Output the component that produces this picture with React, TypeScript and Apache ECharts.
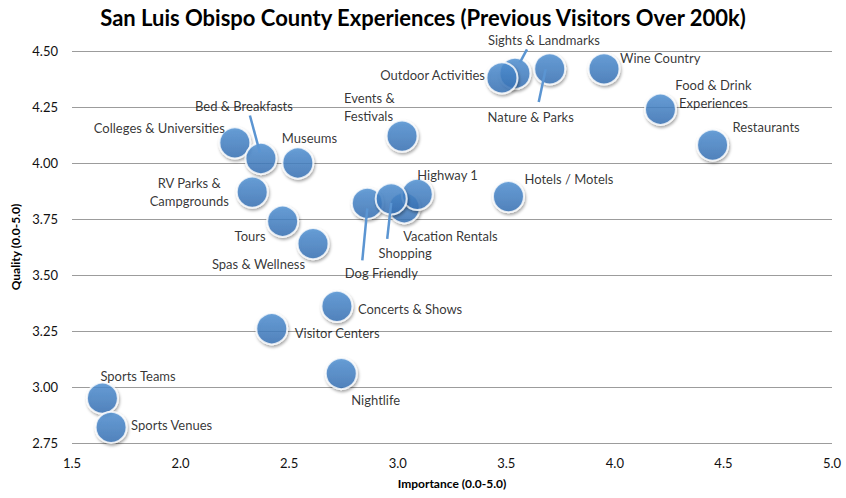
import React, { useEffect, useRef } from "react";
import * as echarts from "echarts";

const titleText = "San Luis Obispo County Experiences (Previous Visitors Over 200k)";
const xAxisName = "Importance (0.0-5.0)";
const yAxisName = "Quality (0.0-5.0)";

const names = [
  "Sports Teams",
  "Sports Venues",
  "Visitor Centers",
  "Nightlife",
  "Concerts & Shows",
  "Spas & Wellness",
  "Tours",
  "RV Parks &\nCampgrounds",
  "Colleges & Universities",
  "Bed & Breakfasts",
  "Museums",
  "Events &\nFestivals",
  "Vacation Rentals",
  "Highway 1",
  "Dog Friendly",
  "Shopping",
  "Hotels / Motels",
  "Sights & Landmarks",
  "Outdoor Activities",
  "Nature & Parks",
  "Wine Country",
  "Food & Drink\nExperiences",
  "Restaurants",
];
const importance = [1.64, 1.68, 2.42, 2.74, 2.72, 2.61, 2.47, 2.33, 2.25, 2.37, 2.54, 3.02, 3.03, 3.09, 2.86, 2.97, 3.51, 3.54, 3.48, 3.70, 3.95, 4.21, 4.45];
const quality = [2.95, 2.82, 3.26, 3.06, 3.36, 3.64, 3.74, 3.87, 4.09, 4.02, 4.00, 4.12, 3.80, 3.86, 3.82, 3.84, 3.85, 4.40, 4.38, 4.42, 4.42, 4.24, 4.08];

const xMin = 1.5, xMax = 5.0, xStep = 0.5;
const yMin = 2.75, yMax = 4.5, yStep = 0.25;

// label placement (pixels relative to the marker centre) — style only
const labelPlacement: Record<string, [number, number, string]> = {
  "Sports Teams": [-2, -22, "left"],
  "Sports Venues": [20, -2, "left"],
  "Visitor Centers": [23, 4, "left"],
  "Nightlife": [10, 26, "left"],
  "Concerts & Shows": [21, 3, "left"],
  "Spas & Wellness": [-8, 20, "right"],
  "Tours": [-17, 15, "right"],
  "RV Parks &\nCampgrounds": [-63, 0, "center"],
  "Colleges & Universities": [-10, -15, "right"],
  "Bed & Breakfasts": [-17, -53, "center"],
  "Museums": [-16, -25, "left"],
  "Events &\nFestivals": [-58, -29, "left"],
  "Vacation Rentals": [-1, 28, "left"],
  "Highway 1": [0, -19, "left"],
  "Dog Friendly": [14, 70, "center"],
  "Shopping": [14, 54, "center"],
  "Hotels / Motels": [16, -18, "left"],
  "Sights & Landmarks": [29, -33, "center"],
  "Outdoor Activities": [-17, -3, "right"],
  "Nature & Parks": [-19, 48, "center"],
  "Wine Country": [16, -11, "left"],
  "Food & Drink\nExperiences": [53, -15, "center"],
  "Restaurants": [20, -18, "left"],
};

// leader lines: [startDx, startDy, endDx, endDy] relative to marker centre — style only
const leaderLines: Record<string, [number, number, number, number]> = {
  "Bed & Breakfasts": [-1, -6, -11, -43],
  "Dog Friendly": [0, 5, -5, 57],
  "Shopping": [0, 4, -4, 40],
  "Sights & Landmarks": [5, -11, 12, -24],
  "Nature & Parks": [-4, 0, -11, 33],
};

const FONT = 'Lato, "Open Sans", "Noto Sans", sans-serif';

export default function App() {
  const ref = useRef<HTMLDivElement>(null);
  useEffect(() => {
    document.body.style.margin = "0";
    if (!ref.current) return;
    const chart = echarts.init(ref.current, undefined, { renderer: "svg" });

    const scatterData = names.map((n, i) => {
      const lp = labelPlacement[n] || [0, -20, "center"];
      return {
        name: n,
        value: [importance[i], quality[i]],
        label: {
          offset: [lp[0], lp[1]],
          align: lp[2],
        },
      };
    });

    const leaderData = Object.keys(leaderLines).map((n) => {
      const i = names.indexOf(n);
      const l = leaderLines[n];
      return [importance[i], quality[i], l[0], l[1], l[2], l[3]];
    });

    chart.setOption({
      animation: false,
      backgroundColor: "#ffffff",
      textStyle: { fontFamily: FONT },
      title: {
        text: titleText,
        left: "center",
        top: 1,
        textStyle: { fontSize: 22, fontWeight: "bold", color: "#000", fontFamily: FONT },
      },
      grid: { left: 72, right: 14, top: 51, bottom: 55, containLabel: false },
      xAxis: {
        type: "value",
        min: xMin,
        max: xMax,
        interval: xStep,
        axisLine: { show: false },
        axisTick: { show: false },
        splitLine: { show: false },
        axisLabel: {
          formatter: (v: number) => v.toFixed(1),
          fontSize: 13,
          color: "#111",
          margin: 13,
          fontFamily: FONT,
        },
        name: xAxisName,
        nameLocation: "middle",
        nameGap: 34,
        nameTextStyle: { fontSize: 12, fontWeight: "bold", color: "#000", fontFamily: FONT },
      },
      yAxis: {
        type: "value",
        min: yMin,
        max: yMax,
        interval: yStep,
        axisLine: { show: false },
        axisTick: { show: false },
        splitLine: { show: true, lineStyle: { color: "#9c9c9c", width: 1 } },
        axisLabel: {
          formatter: (v: number) => v.toFixed(2),
          fontSize: 13,
          color: "#111",
          margin: 14,
          fontFamily: FONT,
        },
        name: yAxisName,
        nameLocation: "middle",
        nameRotate: 90,
        nameGap: 47,
        nameTextStyle: { fontSize: 12, fontWeight: "bold", color: "#000", fontFamily: FONT },
      },
      series: [
        {
          type: "scatter",
          z: 2,
          symbol: "circle",
          symbolSize: 31,
          itemStyle: {
            color: new echarts.graphic.LinearGradient(0, 0, 0, 1, [
              { offset: 0, color: "#5193d6" },
              { offset: 1, color: "#3771b6" },
            ]),
            borderColor: "#ffffff",
            borderWidth: 2,
            shadowColor: "rgba(0,0,0,0.4)",
            shadowBlur: 3,
            shadowOffsetX: 1,
            shadowOffsetY: 2,
          },
          emphasis: { disabled: true },
          label: {
            show: true,
            position: "inside",
            formatter: "{b}",
            fontSize: 13,
            lineHeight: 18,
            color: "#000",
            fontFamily: FONT,
            verticalAlign: "middle",
          },
          data: scatterData,
        },
        {
          type: "custom",
          z: 3,
          silent: true,
          renderItem: (params: any, api: any) => {
            const p = api.coord([api.value(0), api.value(1)]);
            return {
              type: "line",
              shape: {
                x1: p[0] + api.value(2),
                y1: p[1] + api.value(3),
                x2: p[0] + api.value(4),
                y2: p[1] + api.value(5),
              },
              style: { stroke: "#5b95d2", lineWidth: 2.5 },
            };
          },
          data: leaderData,
        },
      ],
    });
    return () => chart.dispose();
  }, []);
  return <div ref={ref} style={{ width: 846, height: 498 }} />;
}
